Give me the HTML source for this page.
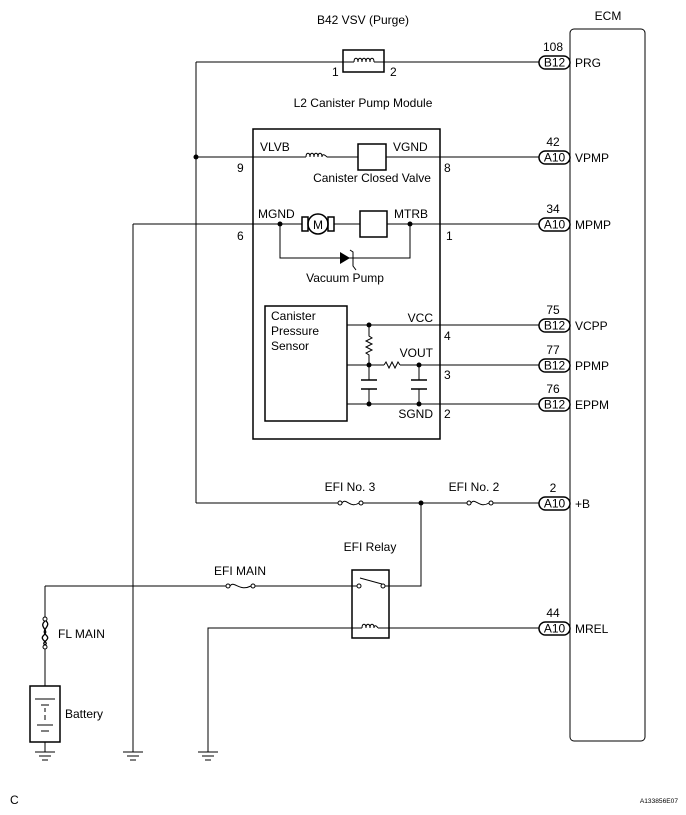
<!DOCTYPE html>
<html><head><style>
body{margin:0;background:#fff;}
svg{display:block;}
text{font-family:"Liberation Sans",sans-serif;font-size:12px;fill:#000;}
</style></head><body>
<svg width="686" height="815" viewBox="0 0 686 815" xmlns="http://www.w3.org/2000/svg">
<g fill="none" stroke="#000" stroke-width="1">
<rect x="570" y="29" width="75" height="712" rx="4"/>
<g stroke-width="1.5">
<rect x="539" y="56" width="31" height="13" rx="6.5"/>
<rect x="539" y="151" width="31" height="13" rx="6.5"/>
<rect x="539" y="218" width="31" height="13" rx="6.5"/>
<rect x="539" y="319" width="31" height="13" rx="6.5"/>
<rect x="539" y="359" width="31" height="13" rx="6.5"/>
<rect x="539" y="398" width="31" height="13" rx="6.5"/>
<rect x="539" y="497" width="31" height="13" rx="6.5"/>
<rect x="539" y="622" width="31" height="13" rx="6.5"/>
</g>
<rect x="343" y="50" width="41" height="22" stroke-width="1.5"/>
<path d="M196 62H354M374 62H539"/>
<path d="M354 62c0-5 4-5 4 0c0-5 4-5 4 0c0-5 4-5 4 0c0-5 4-5 4 0c0-5 4-5 4 0"/>
<path d="M196 62V503"/>
<rect x="253" y="129" width="187" height="310" stroke-width="1.5"/>
<path d="M196 157H306M327 157H358M386 157H539"/>
<path d="M306 157c0-5 4-5 4 0c0-5 4-5 4 0c0-5 4-5 4 0c0-5 4-5 4 0c0-3 2-3 5 0"/>
<rect x="358" y="144" width="28" height="26" stroke-width="1.5"/>
<path d="M133 224H302M334 224H360M387 224H539"/>
<path d="M133 224V752"/>
<rect x="302" y="217" width="6" height="14" stroke-width="1.5"/>
<rect x="328" y="217" width="6" height="14" stroke-width="1.5"/>
<circle cx="318" cy="224" r="10" stroke-width="1.5"/>
<rect x="360" y="211" width="27" height="26" stroke-width="1.5"/>
<path d="M280 224V258H410V224"/>
<path d="M350 250L353 252V266L356 270"/>
<rect x="265" y="306" width="82" height="115" stroke-width="1.5"/>
<path d="M347 325H539M347 365H384M400 365H539M347 404H539"/>
<path d="M369 325V336l3 2-6 3 6 3-6 3 6 3-6 3 3 2V365"/>
<path d="M384 365l2-3 3 6 3-6 3 6 3-6 2 3"/>
<path d="M369 365V380M369 389V404M419 365V380M419 389V404"/>
<path d="M361 380H377M361 389H377M411 380H427M411 389H427" stroke-width="1.5"/>
<path d="M196 503H338M363 503H467M493 503H539"/>
<circle cx="340" cy="503" r="2"/><circle cx="361" cy="503" r="2"/>
<path d="M342 503c4-6 8 6 17 0"/>
<circle cx="469" cy="503" r="2"/><circle cx="491" cy="503" r="2"/>
<path d="M471 503c4-6 8 6 18 0"/>
<path d="M421 503V586H385"/>
<rect x="352" y="570" width="37" height="68" stroke-width="1.5"/>
<circle cx="359" cy="586" r="2"/><circle cx="383" cy="586" r="2"/>
<path d="M360 578L382 584"/>
<path d="M45 586H226M255 586H357"/>
<circle cx="228" cy="586" r="2"/><circle cx="253" cy="586" r="2"/>
<path d="M230 586c4-6 9 6 21 0"/>
<path d="M208 752V628H362M378 628H539"/>
<path d="M362 628c0-5 4-5 4 0c0-5 4-5 4 0c0-5 4-5 4 0c0-3 2-3 4 0"/>
<path d="M45 586V617M45 649V686"/>
<circle cx="45" cy="619" r="2"/><circle cx="45" cy="647" r="2"/>
<path d="M45 621C38 627 50 630 44 635S50 642 45 645M46 621C52 626 40 630 46 635S40 642 45 645" stroke-width="1.3"/>
<rect x="30" y="686" width="30" height="56" stroke-width="1.5"/>
<path d="M35 699H55M41 705H49M45 708V712M45 715V720M37 725H53M41 731H49M45 742V752"/>
<path d="M35 752H55M39 756H51M42 760H48"/>
<path d="M123 752H143M127 756H139M130 760H136"/>
<path d="M198 752H218M202 756H214M205 760H211"/>
</g>
<g fill="#000">
<circle cx="196" cy="157" r="2.5"/>
<circle cx="280" cy="224" r="2.5"/><circle cx="410" cy="224" r="2.5"/>
<circle cx="369" cy="325" r="2.5"/><circle cx="369" cy="365" r="2.5"/><circle cx="419" cy="365" r="2.5"/>
<circle cx="369" cy="404" r="2.5"/><circle cx="419" cy="404" r="2.5"/>
<circle cx="421" cy="503" r="2.5"/>
<path d="M340 252L350 258L340 264Z"/>
</g>
<text x="318" y="229" text-anchor="middle" font-size="14">M</text>
<text x="363" y="24" text-anchor="middle">B42 VSV (Purge)</text>
<text x="608" y="20" text-anchor="middle">ECM</text>
<text x="332" y="76">1</text><text x="390" y="76">2</text>
<text x="363" y="107" text-anchor="middle">L2 Canister Pump Module</text>
<text x="260" y="151">VLVB</text><text x="393" y="151">VGND</text>
<text x="237" y="172">9</text><text x="444" y="172">8</text>
<text x="372" y="182" text-anchor="middle">Canister Closed Valve</text>
<text x="258" y="218">MGND</text><text x="394" y="218">MTRB</text>
<text x="237" y="240">6</text><text x="446" y="240">1</text>
<text x="345" y="282" text-anchor="middle">Vacuum Pump</text>
<text x="271" y="320">Canister</text><text x="271" y="335">Pressure</text><text x="271" y="350">Sensor</text>
<text x="433" y="322" text-anchor="end">VCC</text><text x="433" y="357" text-anchor="end">VOUT</text><text x="433" y="418" text-anchor="end">SGND</text>
<text x="444" y="340">4</text><text x="444" y="379">3</text><text x="444" y="418">2</text>
<g font-size="11">
<text x="553" y="51" text-anchor="middle">108</text>
<text x="553" y="146" text-anchor="middle">42</text>
<text x="553" y="213" text-anchor="middle">34</text>
<text x="553" y="314" text-anchor="middle">75</text>
<text x="553" y="354" text-anchor="middle">77</text>
<text x="553" y="393" text-anchor="middle">76</text>
<text x="553" y="492" text-anchor="middle">2</text>
<text x="553" y="617" text-anchor="middle">44</text>
</g>
<g font-size="11" text-anchor="middle">
<text x="554.5" y="66.5">B12</text><text x="554.5" y="161.5">A10</text><text x="554.5" y="228.5">A10</text>
<text x="554.5" y="329.5">B12</text><text x="554.5" y="369.5">B12</text><text x="554.5" y="408.5">B12</text>
<text x="554.5" y="507.5">A10</text><text x="554.5" y="632.5">A10</text>
</g>
<text x="575" y="67">PRG</text><text x="575" y="162">VPMP</text><text x="575" y="229">MPMP</text>
<text x="575" y="330">VCPP</text><text x="575" y="370">PPMP</text><text x="575" y="409">EPPM</text>
<text x="575" y="508">+B</text><text x="575" y="633">MREL</text>
<text x="350" y="491" text-anchor="middle">EFI No. 3</text>
<text x="474" y="491" text-anchor="middle">EFI No. 2</text>
<text x="370" y="551" text-anchor="middle">EFI Relay</text>
<text x="240" y="575" text-anchor="middle">EFI MAIN</text>
<text x="58" y="638">FL MAIN</text>
<text x="65" y="718">Battery</text>
<text x="10" y="804" font-size="10">C</text>
<text transform="translate(678 803) scale(0.55)" text-anchor="end">A133856E07</text>
</svg>
</body></html>
